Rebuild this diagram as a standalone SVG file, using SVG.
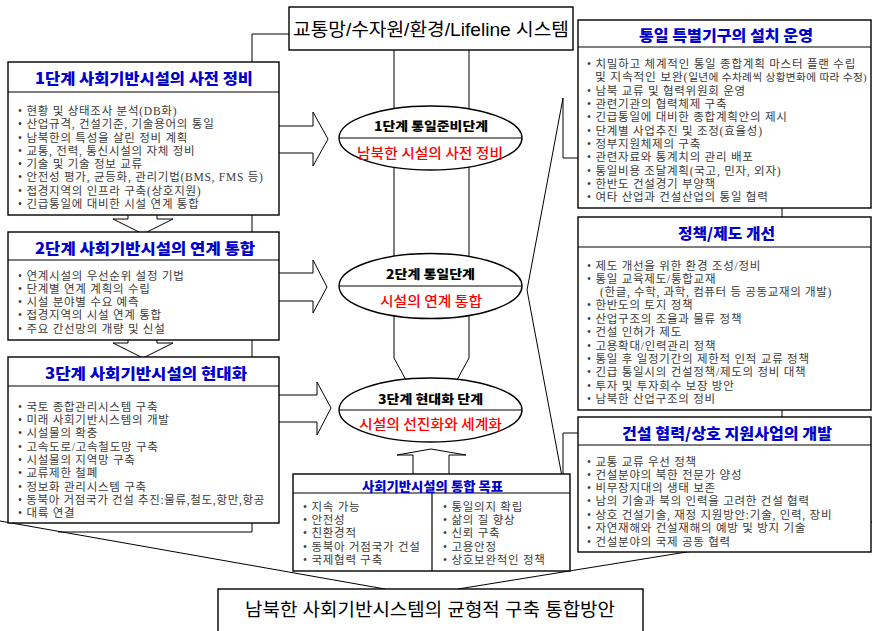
<svg xmlns="http://www.w3.org/2000/svg" width="872" height="631" viewBox="0 0 872 631">
<style>
.box{fill:#fff;stroke:#000;stroke-width:1.4}
.div{stroke:#000;stroke-width:1.2}
.ln{fill:none;stroke:#000;stroke-width:1}
.arr{fill:#fff;stroke:#000;stroke-width:1}
.ttl{font-family:"Noto Sans CJK KR","Liberation Sans",sans-serif;font-weight:900;fill:#0000cc;font-size:15px}
.it{font-family:"Liberation Serif","Noto Sans CJK KR",serif;font-size:11.5px;letter-spacing:0.75px;fill:#3a3a3a}
.et{font-family:"Noto Sans CJK KR","Liberation Sans",sans-serif;font-weight:900;font-size:12.5px;fill:#000}
.rt{font-family:"Noto Sans CJK KR","Liberation Sans",sans-serif;font-weight:500;font-size:13.5px;fill:#f00}
.big{font-family:"Liberation Sans","Noto Sans CJK KR",sans-serif;font-size:18px;fill:#000}
text{dominant-baseline:central}
</style>
<rect width="872" height="631" fill="#fff"/>
<g id="connectors">
  <polyline class="ln" points="289,34 252,34 252,532 58,532"/>
  <line class="ln" x1="782" y1="200" x2="782" y2="425"/>
  <polyline class="ln" points="394,50 394,358 406,380"/>
  <polyline class="ln" points="469,50 469,358 457,380"/>
  <polyline class="ln" points="590,158 563,158 563,98 527,290 563,482 563,433 590,433"/>
  <line class="ln" x1="0" y1="521" x2="385" y2="589"/>
  <line class="ln" x1="872" y1="522" x2="458" y2="589"/>
  <polygon class="arr" points="270,126 313,126 313,112 328,139 313,166 313,153 270,153"/>
  <polygon class="arr" points="270,273 313,273 313,260 327,287 313,313 313,301 270,301"/>
  <polygon class="arr" points="270,395 317,395 317,382 331,408 317,435 317,422 270,422"/>
  <polygon class="arr" points="128,210 128,219 113,219 143,234 173,219 157,219 157,210"/>
  <polygon class="arr" points="128,335 128,343 113,343 143,358 173,343 157,343 157,335"/>
  <polygon class="arr" points="413,476 413,455 397,455 431,449 466,455 449,455 449,476"/>
</g>
<g id="top">
  <rect class="box" x="289" y="7" width="284" height="43"/>
  <text class="big" x="293" y="30" textLength="276" lengthAdjust="spacingAndGlyphs">교통망/수자원/환경/Lifeline 시스템</text>
</g>
<g id="stage1">
  <rect class="box" x="8" y="62" width="271" height="153"/>
  <line class="div" x1="8" y1="92" x2="279" y2="92"/>
  <text class="ttl" x="35" y="77" textLength="218" lengthAdjust="spacingAndGlyphs">1단계  사회기반시설의 사전 정비</text>
  <text class="it" x="18" y="111">• 현황 및 상태조사 분석(DB화)</text>
  <text class="it" x="18" y="124">• 산업규격, 건설기준, 기술용어의 통일</text>
  <text class="it" x="18" y="137.5">• 남북한의 특성을 살린 정비 계획</text>
  <text class="it" x="18" y="150.5">• 교통, 전력, 통신시설의 자체 정비</text>
  <text class="it" x="18" y="164">• 기술 및 기술 정보 교류</text>
  <text class="it" x="18" y="177">• 안전성 평가, 균등화, 관리기법(BMS, FMS 등)</text>
  <text class="it" x="18" y="190.5">• 접경지역의 인프라 구축(상호지원)</text>
  <text class="it" x="18" y="204">• 긴급통일에 대비한 시설 연계 통합</text>
</g>
<g id="stage2">
  <rect class="box" x="8" y="232" width="271" height="108"/>
  <line class="div" x1="8" y1="260" x2="279" y2="260"/>
  <text class="ttl" x="35" y="247" textLength="220" lengthAdjust="spacingAndGlyphs">2단계  사회기반시설의 연계 통합</text>
  <text class="it" x="18" y="276">• 연계시설의 우선순위 설정 기법</text>
  <text class="it" x="18" y="289">• 단계별 연계 계획의 수립</text>
  <text class="it" x="18" y="302">• 시설 분야별 수요 예측</text>
  <text class="it" x="18" y="315">• 접경지역의 시설 연계 통합</text>
  <text class="it" x="18" y="329">• 주요 간선망의 개량 및 신설</text>
</g>
<g id="stage3">
  <rect class="box" x="8" y="357" width="271" height="166"/>
  <line class="div" x1="8" y1="386" x2="279" y2="386"/>
  <text class="ttl" x="45" y="372" textLength="202" lengthAdjust="spacingAndGlyphs">3단계  사회기반시설의 현대화</text>
  <text class="it" x="18" y="407">• 국토 종합관리시스템 구축</text>
  <text class="it" x="18" y="420">• 미래 사회기반시스템의 개발</text>
  <text class="it" x="18" y="433">• 시설물의 확충</text>
  <text class="it" x="18" y="447">• 고속도로/고속철도망 구축</text>
  <text class="it" x="18" y="460">• 시설물의 지역망 구축</text>
  <text class="it" x="18" y="473">• 교류제한 철폐</text>
  <text class="it" x="18" y="487">• 정보화 관리시스템 구축</text>
  <text class="it" x="18" y="500" textLength="247" lengthAdjust="spacing">• 동북아 거점국가 건설 추진:물류,철도,항만,항공</text>
  <text class="it" x="18" y="513">• 대륙 연결</text>
</g>
<g id="phase1">
  <ellipse class="box" cx="430.5" cy="138" rx="91.5" ry="32"/>
  <line class="div" x1="339" y1="138" x2="522" y2="138"/>
  <text class="et" x="374" y="125" textLength="114" lengthAdjust="spacingAndGlyphs">1단계  통일준비단계</text>
  <text class="rt" x="357" y="152" textLength="146" lengthAdjust="spacingAndGlyphs">남북한 시설의 사전 정비</text>
</g>
<g id="phase2">
  <ellipse class="box" cx="430.5" cy="286" rx="91.5" ry="32.5"/>
  <line class="div" x1="339" y1="286" x2="522" y2="286"/>
  <text class="et" x="386" y="273" textLength="89" lengthAdjust="spacingAndGlyphs">2단계  통일단계</text>
  <text class="rt" x="380" y="300" textLength="102" lengthAdjust="spacingAndGlyphs">시설의 연계 통합</text>
</g>
<g id="phase3">
  <ellipse class="box" cx="430.5" cy="410" rx="91.5" ry="32"/>
  <line class="div" x1="339" y1="410" x2="522" y2="410"/>
  <text class="et" x="378" y="398" textLength="105" lengthAdjust="spacingAndGlyphs">3단계  현대화 단계</text>
  <text class="rt" x="359" y="423" textLength="143" lengthAdjust="spacingAndGlyphs">시설의 선진화와 세계화</text>
</g>
<g id="goals">
  <rect class="box" x="293" y="474" width="277" height="97"/>
  <line class="div" x1="293" y1="493" x2="570" y2="493"/>
  <line class="div" x1="432" y1="493" x2="432" y2="571"/>
  <text class="ttl" x="362" y="485" textLength="141" lengthAdjust="spacingAndGlyphs" style="font-size:13px">사회기반시설의 통합 목표</text>
  <text class="it" x="303" y="507">• 지속 가능</text>
  <text class="it" x="303" y="520">• 안전성</text>
  <text class="it" x="303" y="533">• 친환경적</text>
  <text class="it" x="303" y="547">• 동북아 거점국가 건설</text>
  <text class="it" x="303" y="560">• 국제협력 구축</text>
  <text class="it" x="443" y="507">• 통일의지 확립</text>
  <text class="it" x="443" y="520">• 삶의 질 향상</text>
  <text class="it" x="443" y="533">• 신뢰 구축</text>
  <text class="it" x="443" y="547">• 고용안정</text>
  <text class="it" x="443" y="560">• 상호보완적인 정책</text>
</g>
<g id="org">
  <rect class="box" x="578" y="20" width="293" height="188"/>
  <line class="div" x1="578" y1="47" x2="871" y2="47"/>
  <text class="ttl" x="639" y="34" textLength="174" lengthAdjust="spacingAndGlyphs">통일 특별기구의 설치 운영</text>
  <text class="it" x="587" y="64" textLength="269" lengthAdjust="spacing">• 치밀하고 체계적인 통일 종합계획 마스터 플랜 수립</text>
  <text class="it" x="595" y="77" textLength="272" lengthAdjust="spacingAndGlyphs">및 지속적인 보완(<tspan style="font-size:10.5px;letter-spacing:0.3px">일년에 수차례씩 상황변화에 따라 수정)</tspan></text>
  <text class="it" x="587" y="91">• 남북 교류 및 협력위원회 운영</text>
  <text class="it" x="587" y="104">• 관련기관의 협력체제 구축</text>
  <text class="it" x="587" y="117">• 긴급통일에 대비한 종합계획안의 제시</text>
  <text class="it" x="587" y="131">• 단계별 사업추진 및 조정(효율성)</text>
  <text class="it" x="587" y="144">• 정부지원체제의 구축</text>
  <text class="it" x="587" y="157">• 관련자료와 통계치의 관리 배포</text>
  <text class="it" x="587" y="171">• 통일비용 조달계획(국고, 민자, 외자)</text>
  <text class="it" x="587" y="184">• 한반도 건설경기 부양책</text>
  <text class="it" x="587" y="197">• 여타 산업과 건설산업의 통일 협력</text>
</g>
<g id="policy">
  <rect class="box" x="578" y="217" width="293" height="193"/>
  <line class="div" x1="578" y1="247" x2="871" y2="247"/>
  <text class="ttl" x="678" y="232" textLength="97" lengthAdjust="spacingAndGlyphs">정책/제도 개선</text>
  <text class="it" x="587" y="266">• 제도 개선을 위한 환경 조성/정비</text>
  <text class="it" x="587" y="279">•  통일 교육제도/통합교재</text>
  <text class="it" x="600" y="292" textLength="232" lengthAdjust="spacing">(한글, 수학, 과학, 컴퓨터 등 공동교재의 개발)</text>
  <text class="it" x="587" y="305">• 한반도의 토지 정책</text>
  <text class="it" x="587" y="319">• 산업구조의 조율과 물류 정책</text>
  <text class="it" x="587" y="332">• 건설 인허가 제도</text>
  <text class="it" x="587" y="346">• 고용확대/인력관리 정책</text>
  <text class="it" x="587" y="359">• 통일 후 일정기간의 제한적 인적 교류 정책</text>
  <text class="it" x="587" y="372">• 긴급 통일시의 건설정책/제도의 정비 대책</text>
  <text class="it" x="587" y="386">• 투자 및 투자회수 보장 방안</text>
  <text class="it" x="587" y="399">• 남북한 산업구조의 정비</text>
</g>
<g id="cooperation">
  <rect class="box" x="578" y="417" width="293" height="135"/>
  <line class="div" x1="578" y1="445" x2="871" y2="445"/>
  <text class="ttl" x="622" y="432" textLength="210" lengthAdjust="spacingAndGlyphs">건설 협력/상호 지원사업의 개발</text>
  <text class="it" x="587" y="462">• 교통 교류 우선 정책</text>
  <text class="it" x="587" y="475">• 건설분야의 북한 전문가 양성</text>
  <text class="it" x="587" y="488">• 비무장지대의 생태 보존</text>
  <text class="it" x="587" y="501">• 남의 기술과 북의 인력을 고려한 건설 협력</text>
  <text class="it" x="587" y="515">• 상호 건설기술, 재정 지원방안:기술, 인력, 장비</text>
  <text class="it" x="587" y="528">• 자연재해와 건설재해의 예방 및 방지 기술</text>
  <text class="it" x="587" y="542">• 건설분야의 국제 공동 협력</text>
</g>
<g id="bottom">
  <rect class="box" x="218" y="589" width="425" height="50"/>
  <text class="big" x="245" y="610" textLength="370" lengthAdjust="spacingAndGlyphs">남북한 사회기반시스템의 균형적 구축 통합방안</text>
</g>
</svg>
